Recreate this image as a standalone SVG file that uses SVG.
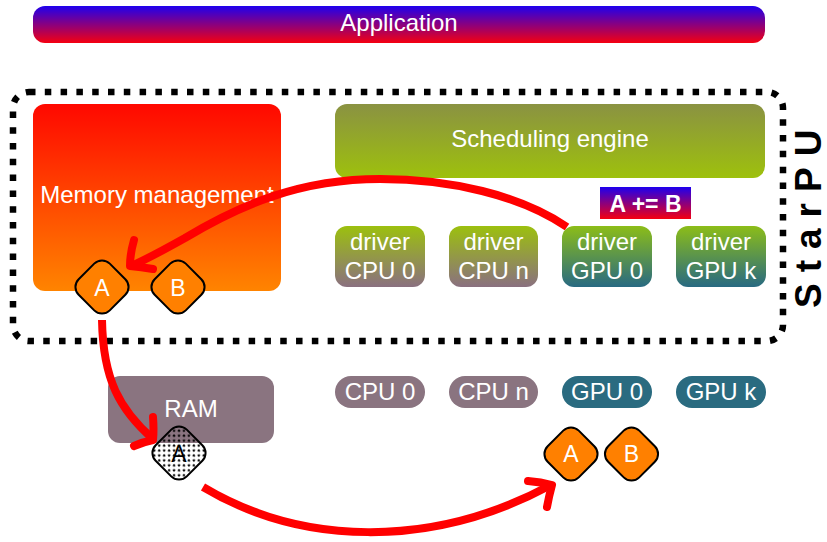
<svg xmlns="http://www.w3.org/2000/svg" width="827" height="542" viewBox="0 0 827 542">
  <style>
    .t { font-family: "Liberation Sans", Arial, sans-serif; font-size: 24px; fill: #ffffff; text-anchor: middle; }
    .b { font-weight: bold; }
    .dia { fill: #ff8000; stroke: #000000; stroke-width: 2; }
    .hat { fill: url(#dots); stroke: #000000; stroke-width: 2; }
    .arrow { fill: none; stroke: #ff0000; stroke-width: 8; stroke-linecap: round; stroke-linejoin: round; }
    .frame { fill: none; stroke: #000000; stroke-width: 6.5; stroke-dasharray: 6.5 9.3; }
    .cpu { fill: #8a7480; }
    .gpu { fill: #2a6b80; }
  </style>
  <defs>
    <linearGradient id="gApp" x1="0" y1="0" x2="0" y2="1">
      <stop offset="0" stop-color="#1e00ee"/>
      <stop offset="1" stop-color="#f50010"/>
    </linearGradient>
    <linearGradient id="gMem" x1="0" y1="0" x2="0" y2="1">
      <stop offset="0" stop-color="#ff0800"/>
      <stop offset="1" stop-color="#ff8400"/>
    </linearGradient>
    <linearGradient id="gSched" x1="0" y1="0" x2="0" y2="1">
      <stop offset="0" stop-color="#8a9242"/>
      <stop offset="1" stop-color="#9ec10c"/>
    </linearGradient>
    <linearGradient id="gCpu" x1="0" y1="0" x2="0" y2="1">
      <stop offset="0" stop-color="#9cc00e"/>
      <stop offset="1" stop-color="#8a7080"/>
    </linearGradient>
    <linearGradient id="gGpu" x1="0" y1="0" x2="0" y2="1">
      <stop offset="0" stop-color="#8cbd18"/>
      <stop offset="1" stop-color="#286a82"/>
    </linearGradient>
    <pattern id="dots" width="7" height="7" patternUnits="userSpaceOnUse">
      <circle cx="1.75" cy="1.75" r="1.2" fill="#000000"/>
      <circle cx="5.25" cy="5.25" r="1.2" fill="#000000"/>
    </pattern>
    <rect id="diamond" x="-22" y="-22" width="44" height="44" rx="11" transform="rotate(45)"/>
  </defs>

  <g id="application">
    <rect x="33" y="6" width="732" height="37" rx="12" fill="url(#gApp)"/>
    <text class="t" x="399" y="31">Application</text>
  </g>

  <g id="starpu">
    <rect class="frame" x="13" y="92" width="770" height="249" rx="16"/>
    <text class="t b" transform="translate(821,308) rotate(-90)" style="font-size:37px;fill:#000000;text-anchor:start;letter-spacing:11px">StarPU</text>
  </g>

  <g id="memory-management">
    <rect x="33" y="104" width="248" height="187" rx="12" fill="url(#gMem)"/>
    <text class="t" x="157" y="203">Memory management</text>
  </g>

  <g id="scheduling-engine">
    <rect x="335" y="104" width="430" height="74" rx="12" fill="url(#gSched)"/>
    <text class="t" x="550" y="147">Scheduling engine</text>
  </g>

  <g id="task-label">
    <rect x="600" y="187" width="91" height="32" fill="url(#gApp)"/>
    <text class="t b" x="645.5" y="212" style="font-size:23px">A += B</text>
  </g>

  <g id="driver-cpu0">
    <rect x="335" y="226" width="90" height="61" rx="12" fill="url(#gCpu)"/>
    <text class="t" x="380" y="250">driver</text>
    <text class="t" x="380" y="279">CPU 0</text>
  </g>
  <g id="driver-cpun">
    <rect x="449" y="226" width="89" height="61" rx="12" fill="url(#gCpu)"/>
    <text class="t" x="493.5" y="250">driver</text>
    <text class="t" x="493.5" y="279">CPU n</text>
  </g>
  <g id="driver-gpu0">
    <rect x="562" y="226" width="90" height="61" rx="12" fill="url(#gGpu)"/>
    <text class="t" x="607" y="250">driver</text>
    <text class="t" x="607" y="279">GPU 0</text>
  </g>
  <g id="driver-gpuk">
    <rect x="676" y="226" width="90" height="61" rx="12" fill="url(#gGpu)"/>
    <text class="t" x="721" y="250">driver</text>
    <text class="t" x="721" y="279">GPU k</text>
  </g>

  <g id="mem-A">
    <use href="#diamond" class="dia" transform="translate(102,287)"/>
    <text class="t" x="102" y="296" style="font-size:23px">A</text>
  </g>
  <g id="mem-B">
    <use href="#diamond" class="dia" transform="translate(178,287)"/>
    <text class="t" x="178" y="296" style="font-size:23px">B</text>
  </g>

  <g id="ram">
    <rect x="108" y="376" width="166" height="67" rx="12" class="cpu"/>
    <text class="t" x="191" y="417">RAM</text>
  </g>

  <g id="cpu0">
    <rect x="335" y="376" width="90" height="32" rx="16" class="cpu"/>
    <text class="t" x="380" y="400">CPU 0</text>
  </g>
  <g id="cpun">
    <rect x="449" y="376" width="89" height="32" rx="16" class="cpu"/>
    <text class="t" x="493.5" y="400">CPU n</text>
  </g>
  <g id="gpu0">
    <rect x="562" y="376" width="90" height="32" rx="16" class="gpu"/>
    <text class="t" x="607" y="400">GPU 0</text>
  </g>
  <g id="gpuk">
    <rect x="676" y="376" width="90" height="32" rx="16" class="gpu"/>
    <text class="t" x="721" y="400">GPU k</text>
  </g>

  <g id="ram-A">
    <use href="#diamond" class="hat" transform="translate(179,453)"/>
    <text class="t" x="179" y="462" style="font-size:23px;fill:#000000">A</text>
  </g>

  <g id="gpu-A">
    <use href="#diamond" class="dia" transform="translate(571,454)"/>
    <text class="t" x="571" y="462" style="font-size:23px">A</text>
  </g>
  <g id="gpu-B">
    <use href="#diamond" class="dia" transform="translate(631.5,454)"/>
    <text class="t" x="631.5" y="462" style="font-size:23px">B</text>
  </g>

  <g id="connectors">
    <path class="arrow" style="stroke-linecap:butt" d="M567,227 C520,195 450,179 380,179 C300,179 240,205 185,238 C160,252 145,260 131,266"/>
    <path class="arrow" d="M134,240 Q130,254 130,266 Q141,267 153,269"/>
    <path class="arrow" style="stroke-linecap:butt" d="M102,320 C103,380 120,410 153,439"/>
    <path class="arrow" d="M153,417 Q154,430 153,440 Q143,442 134,446"/>
    <path class="arrow" style="stroke-linecap:butt" d="M203,487 C300,545 430,550 551,485"/>
    <path class="arrow" d="M528,481 Q541,482 552,485 Q549,496 547,507"/>
  </g>
</svg>
